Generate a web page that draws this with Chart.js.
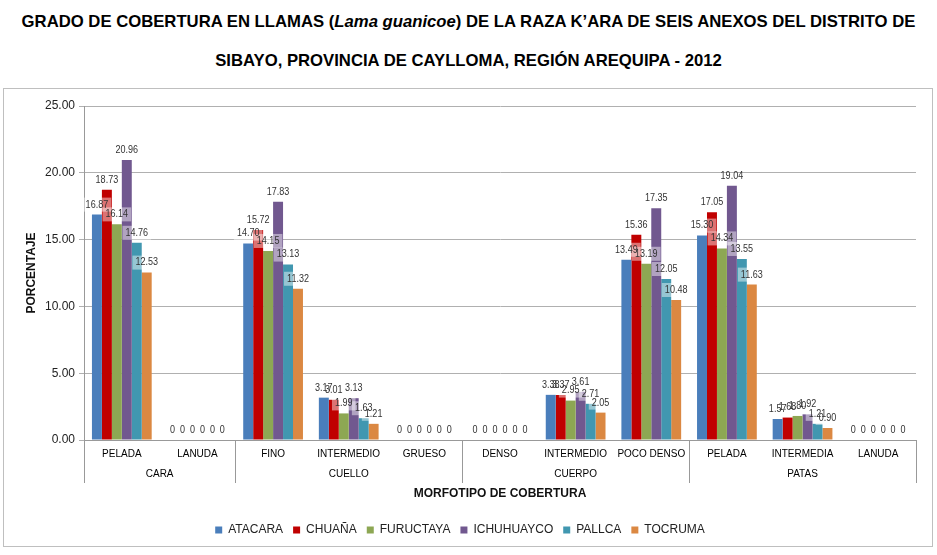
<!DOCTYPE html>
<html>
<head>
<meta charset="utf-8">
<script src="https://cdn.jsdelivr.net/npm/chart.js@4"></script>
<style>
  html, body { margin:0; padding:0; background:#fff; width:937px; height:555px; overflow:hidden; }
  body { position:relative; font-family:'Liberation Sans', Arial, sans-serif; }
  .t { position:absolute; left:0; width:937px; text-align:center; font-weight:bold; font-size:16.7px; line-height:19px; color:#000; white-space:nowrap; }
  #box { position:absolute; left:3px; top:88px; width:928px; height:457px; border:1px solid #bfbfbf; }
  #c { position:absolute; left:0; top:0; }
</style>
</head>
<body>
<div class="t" style="top:12px">GRADO DE COBERTURA EN LLAMAS (<i>Lama guanicoe</i>) DE LA RAZA K’ARA DE SEIS ANEXOS DEL DISTRITO DE</div>
<div class="t" style="top:51px">SIBAYO, PROVINCIA DE CAYLLOMA, REGIÓN AREQUIPA - 2012</div>
<div id="box"><canvas id="c" width="928" height="457"></canvas></div>
<script>
const categories = ['PELADA','LANUDA','FINO','INTERMEDIO','GRUESO','DENSO','INTERMEDIO','POCO DENSO','PELADA','INTERMEDIA','LANUDA'];
const groups = [ {name:'CARA', start:0, end:1}, {name:'CUELLO', start:2, end:4}, {name:'CUERPO', start:5, end:7}, {name:'PATAS', start:8, end:10} ];
const seriesNames = ['ATACARA','CHUAÑA','FURUCTAYA','ICHUHUAYCO','PALLCA','TOCRUMA'];
const atacara    = [16.87, 0, 14.70, 3.17, 0, 0, 3.38, 13.49, 15.30, 1.57, 0];
const chuana     = [18.73, 0, 15.72, 3.01, 0, 0, 3.37, 15.36, 17.05, 1.68, 0];
const fuructaya  = [16.14, 0, 14.15, 1.99, 0, 0, 2.95, 13.19, 14.34, 1.80, 0];
const ichuhuayco = [20.96, 0, 17.83, 3.13, 0, 0, 3.61, 17.35, 19.04, 1.92, 0];
const pallca     = [14.76, 0, 13.13, 1.63, 0, 0, 2.71, 12.05, 13.55, 1.21, 0];
const tocruma    = [12.53, 0, 11.32, 1.21, 0, 0, 2.05, 10.48, 11.63, 0.90, 0];
const yTicks = [0, 5, 10, 15, 20, 25];

const colors = ['#4A7EBB','#C00000','#8DA753','#71588F','#4197B0','#DB8842'];
const values = [atacara, chuana, fuructaya, ichuhuayco, pallca, tocruma];
const FONT = "'Liberation Sans', Arial, sans-serif";
Chart.defaults.font.family = FONT;
Chart.defaults.color = '#222';

const valueLabels = {
  id: 'valueLabels',
  afterDatasetsDraw(chart) {
    const ctx = chart.ctx;
    const sx = 0.86;
    const n = chart.data.datasets.length;
    const items = [];
    chart.data.datasets.forEach((ds, di) => {
      const meta = chart.getDatasetMeta(di);
      meta.data.forEach((bar, i) => {
        const v = ds.data[i];
        items.push({ di, i, v, x: bar.x, y: bar.y - 10, txt: v === 0 ? '0' : v.toFixed(2) });
      });
    });
    ctx.save();
    ctx.font = '10.5px ' + FONT;
    ctx.textAlign = 'center';
    ctx.textBaseline = 'middle';
    // translucent boxes where a label sits over a taller neighbouring bar
    items.forEach(it => {
      if (it.v === 0) return;
      const w = ctx.measureText(it.txt).width * sx;
      const over = [it.di - 1, it.di + 1].some(d => d >= 0 && d < n &&
        chart.getDatasetMeta(d).data[it.i].y < it.y + 6);
      if (over) {
        ctx.fillStyle = 'rgba(255,255,255,0.45)';
        ctx.fillRect(it.x - w / 2 - 3, it.y - 7, w + 6, 14);
      }
    });
    items.forEach(it => {
      ctx.save();
      ctx.translate(it.x, it.y);
      ctx.scale(sx, 1);
      ctx.fillStyle = '#333';
      ctx.fillText(it.txt, 0, 0);
      ctx.restore();
    });
    ctx.restore();
  }
};

const groupAxis = {
  id: 'groupAxis',
  afterDraw(chart) {
    const ctx = chart.ctx;
    const xs = chart.scales.x;
    const area = chart.chartArea;
    const half = (xs.getPixelForValue(1) - xs.getPixelForValue(0)) / 2;
    ctx.save();
    ctx.strokeStyle = '#999';
    ctx.lineWidth = 1;
    const bottom = area.bottom + 43;
    const lines = [area.left];
    groups.forEach(g => lines.push(xs.getPixelForValue(g.end) + half));
    lines.forEach(x => {
      const px = Math.round(x) + 0.5;
      ctx.beginPath(); ctx.moveTo(px, area.bottom); ctx.lineTo(px, bottom); ctx.stroke();
    });
    ctx.font = '10px ' + FONT;
    ctx.fillStyle = '#000';
    ctx.textAlign = 'center';
    ctx.textBaseline = 'middle';
    groups.forEach(g => {
      const cx = (xs.getPixelForValue(g.start) + xs.getPixelForValue(g.end)) / 2;
      ctx.fillText(g.name, cx, area.bottom + 34);
    });
    ctx.restore();
  }
};

new Chart(document.getElementById('c'), {
  type: 'bar',
  data: {
    labels: categories,
    datasets: seriesNames.map((n, i) => ({
      label: n, data: values[i], backgroundColor: colors[i], borderWidth: 0,
      categoryPercentage: 0.79, barPercentage: 1.0
    }))
  },
  options: {
    responsive: false,
    animation: false,
    layout: { padding: { left: 0, right: 16, top: 17, bottom: 0 } },
    plugins: {
      legend: {
        position: 'bottom',
        labels: { boxWidth: 7, boxHeight: 7, padding: 10, font: { size: 12 }, color: '#222' }
      },
      tooltip: { enabled: false }
    },
    scales: {
      x: {
        grid: { display: false, drawTicks: false },
        border: { display: true, color: '#999' },
        ticks: { autoSkip: false, maxRotation: 0, padding: 8, font: { size: 10 }, color: '#000' },
        title: { display: true, text: 'MORFOTIPO DE COBERTURA', font: { size: 12, weight: 'bold' }, color: '#111', padding: { top: 0, bottom: 13 } },
        afterFit(s) { s.height = 74; }
      },
      y: {
        min: 0, max: 25,
        afterBuildTicks(s) { s.ticks = yTicks.map(v => ({ value: v })); },
        grid: { color: '#b0b0b0', tickLength: 5 },
        border: { display: true, color: '#999' },
        ticks: { font: { size: 12 }, color: '#222', padding: 4, callback: v => Number(v).toFixed(2) },
        title: { display: true, text: 'PORCENTAJE', font: { size: 12, weight: 'bold' }, color: '#111', padding: { top: 20, bottom: 0 } },
        afterFit(s) { s.width = 80; }
      }
    }
  },
  plugins: [valueLabels, groupAxis]
});
</script>
</body>
</html>
